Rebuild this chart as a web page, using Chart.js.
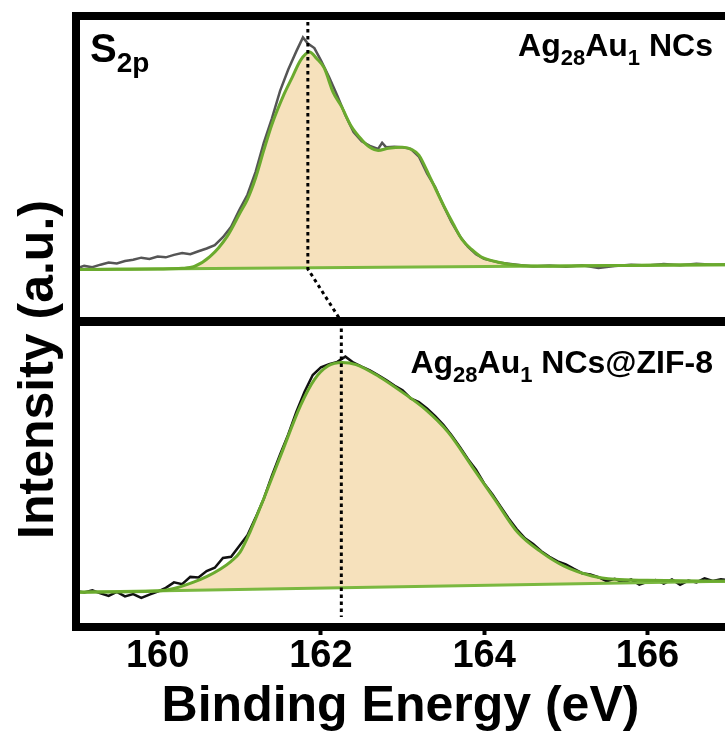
<!DOCTYPE html>
<html><head><meta charset="utf-8">
<script src="https://cdn.jsdelivr.net/npm/chart.js@4/dist/chart.umd.min.js"></script>
<style>html,body{margin:0;padding:0;background:#fff;}canvas{display:block;}</style>
</head><body>
<canvas id="c" width="725" height="740"></canvas>
<script>
// ---- data (binding energy in eV, intensity in arbitrary units per panel 0-100) ----
const xTickValues = [160, 162, 164, 166];

// Top panel: Ag28Au1 NCs
const topRawE = [159.0,159.1,159.2,159.3,159.4,159.5,159.6,159.7,159.8,159.9,160.0,160.1,160.2,160.3,160.4,160.5,160.6,160.7,160.8,160.9,161.0,161.1,161.2,161.3,161.4,161.5,161.6,161.7,161.78,161.84,161.92,162.0,162.1,162.2,162.3,162.4,162.5,162.6,162.7,162.75,162.8,162.9,163.0,163.1,163.2,163.3,163.4,163.5,163.6,163.7,163.8,163.9,164.0,164.2,164.4,164.6,164.8,165.0,165.2,165.4,165.6,165.8,166.0,166.2,166.4,166.6,166.8,167.0];
const topRawI = [17.3,18.2,17.8,18.6,19.3,19.0,19.8,20.2,20.9,20.5,21.3,21.0,21.8,22.4,22.0,23.0,23.9,25.0,27.6,31.0,36.5,41.5,49.0,58.5,66.5,75.5,82.5,88.5,93.0,91.0,89.5,85.5,80.0,74.0,67.5,62.0,59.0,57.5,56.5,58.5,57.0,57.2,57.0,56.5,54.0,48.5,44.0,38.0,32.5,28.0,24.5,22.0,20.5,19.2,18.6,18.0,18.3,17.9,18.4,17.5,18.2,18.6,18.3,18.8,18.4,18.9,18.6,18.8];
const topFitE = [159.0,159.5,160.0,160.3,160.45,160.64,160.85,161.01,161.1,161.2,161.3,161.4,161.55,161.65,161.75,161.86,161.95,162.04,162.15,162.25,162.37,162.5,162.6,162.7,162.83,163.0,163.12,163.2,163.34,163.51,163.62,163.73,163.85,163.96,164.19,164.41,164.8,165.5,166.2,167.0];
const topFitI = [17.0,17.1,17.2,17.4,18.0,21.2,27.8,35.6,40.0,47.0,56.0,64.5,74.5,80.0,85.5,88.2,86.0,83.0,75.0,70.5,64.0,59.5,57.0,56.0,56.7,57.0,56.2,54.5,47.0,37.6,32.0,26.8,23.5,21.2,19.3,18.4,18.1,18.3,18.5,18.6];
const topBgE = [159.0, 167.0];
const topBgI = [17.0, 18.6];

// Bottom panel: Ag28Au1 NCs@ZIF-8
const botRawE = [159.0,159.1,159.2,159.3,159.4,159.5,159.6,159.7,159.8,159.9,160.0,160.1,160.2,160.3,160.4,160.5,160.6,160.7,160.8,160.9,161.0,161.1,161.2,161.3,161.4,161.5,161.6,161.7,161.8,161.9,162.0,162.1,162.2,162.3,162.4,162.5,162.6,162.7,162.8,162.9,163.0,163.1,163.2,163.3,163.4,163.5,163.6,163.7,163.8,163.9,164.0,164.1,164.2,164.3,164.4,164.5,164.6,164.7,164.8,164.9,165.0,165.1,165.2,165.3,165.4,165.5,165.6,165.7,165.8,165.9,166.0,166.1,166.2,166.3,166.4,166.5,166.6,166.7,166.8,166.9,167.0];
const botRawI = [11.8,11.3,12.0,11.0,10.2,11.5,10.0,10.8,9.5,10.6,11.6,12.8,14.6,14.0,16.4,16.2,18.3,19.4,22.6,23.0,26.5,30.0,35.8,42.0,49.5,56.5,63.0,70.5,77.0,82.5,85.0,86.0,86.8,88.5,86.5,85.2,84.0,82.5,80.8,79.0,77.5,74.8,73.6,71.5,69.0,66.2,62.8,59.0,55.0,51.5,47.0,43.5,39.5,35.5,32.0,29.0,27.2,24.8,23.0,21.5,20.5,19.0,17.6,17.2,16.3,15.0,15.8,14.5,15.6,13.9,14.8,15.4,14.2,15.6,13.8,15.2,14.6,15.9,15.1,15.6,15.4];
const botFitE = [159.0,160.0,160.2,160.44,160.6,160.77,160.9,161.01,161.13,161.3,161.52,161.75,161.92,162.09,162.26,162.43,162.71,163.0,163.28,163.56,163.85,164.13,164.41,164.7,164.98,165.32,165.6,166.0,167.0];
const botFitI = [11.4,11.8,12.6,14.7,16.5,19.0,21.5,24.5,31.0,42.0,57.0,72.5,81.0,85.5,86.6,85.9,82.0,76.8,71.2,63.7,52.6,41.8,31.0,24.5,19.9,16.7,15.6,15.3,15.0];
const botBgE = [159.0, 167.0];
const botBgI = [11.4, 15.0];

// peak position guides (eV)
const peakTopE = 161.84;
const peakBotE = 162.25;
const guideTopI = [98, 17.2, 0];
const guideBotI = [100, 3.3];

// texts
const xTitle = 'Binding Energy (eV)';
const yTitle = 'Intensity (a.u.)';
const topLabel = [['Ag',0],['28',1],['Au',0],['1',1],[' NCs',0]];
const botLabel = [['Ag',0],['28',1],['Au',0],['1',1],[' NCs@ZIF-8',0]];
const coreLabel = [['S',0],['2p',1]];

// ---- chart ----
const FONT = '"Liberation Sans", Arial, sans-serif';
const toXY = (xs, ys) => xs.map((x, i) => ({x: x, y: ys[i]}));

const fillColor = 'rgb(246,225,188)';
const fitGreen = '#6aaa2e';
const bgGreen = '#7ab840';

function richText(ctx, parts, x, baseline, big, small, dy, alignRight) {
  let total = 0;
  parts.forEach(p => { ctx.font = 'bold ' + (p[1] ? small : big) + 'px ' + FONT; total += ctx.measureText(p[0]).width; });
  let cx = alignRight ? x - total : x;
  parts.forEach(p => {
    ctx.font = 'bold ' + (p[1] ? small : big) + 'px ' + FONT;
    ctx.fillText(p[0], cx, baseline + (p[1] ? dy : 0));
    cx += ctx.measureText(p[0]).width;
  });
}

const framePlugin = {
  id: 'frame',
  beforeDraw(chart) {
    const ctx = chart.ctx;
    ctx.save(); ctx.fillStyle = '#fff'; ctx.fillRect(0, 0, chart.width, chart.height); ctx.restore();
  },
  afterDraw(chart) {
    const {ctx, chartArea: a, scales} = chart;
    const mid = scales.yTop.bottom;
    ctx.save();
    ctx.strokeStyle = '#000';
    ctx.lineCap = 'butt';
    const ln = (x1, y1, x2, y2, w) => { ctx.lineWidth = w; ctx.beginPath(); ctx.moveTo(x1, y1); ctx.lineTo(x2, y2); ctx.stroke(); };
    ln(a.left - 4, a.top, a.right, a.top, 8);
    ln(a.left, a.top - 4, a.left, a.bottom + 4, 8);
    ln(a.left - 4, a.bottom, a.right, a.bottom, 8);
    ln(a.left, mid, a.right, mid, 9);

    ctx.fillStyle = '#000';
    ctx.textBaseline = 'alphabetic';
    ctx.textAlign = 'left';
    richText(ctx, coreLabel, a.left + 14, a.top + 46, 40, 28, 10, false);
    richText(ctx, topLabel, a.right - 12, a.top + 40, 32, 22, 9, true);
    richText(ctx, botLabel, a.right - 12, mid + 51, 32, 22, 9, true);

    ctx.translate(53, (a.top + a.bottom) / 2 + 48);
    ctx.rotate(-Math.PI / 2);
    ctx.textAlign = 'center';
    ctx.font = 'bold 50px ' + FONT;
    ctx.fillText(yTitle, 0, 0);
    ctx.restore();
  }
};

const guideStyle = {borderColor: '#000', borderWidth: 3, borderDash: [3.5, 3.5], pointRadius: 0, fill: false, order: 0, tension: 0};

new Chart(document.getElementById('c'), {
  type: 'line',
  data: {
    datasets: [
      {label: 'top raw', data: toXY(topRawE, topRawI), yAxisID: 'yTop', borderColor: '#555', borderWidth: 2.5, pointRadius: 0, tension: 0, fill: false, order: 3},
      {label: 'top background', data: toXY(topBgE, topBgI), yAxisID: 'yTop', borderColor: bgGreen, borderWidth: 3, pointRadius: 0, fill: false, order: 2},
      {label: 'top fit', data: toXY(topFitE, topFitI), yAxisID: 'yTop', borderColor: fitGreen, borderWidth: 3, pointRadius: 0, cubicInterpolationMode: 'monotone', fill: 1, backgroundColor: fillColor, order: 1},
      {label: 'bottom raw', data: toXY(botRawE, botRawI), yAxisID: 'yBot', borderColor: '#111', borderWidth: 2.5, pointRadius: 0, tension: 0, fill: false, order: 3},
      {label: 'bottom background', data: toXY(botBgE, botBgI), yAxisID: 'yBot', borderColor: bgGreen, borderWidth: 3, pointRadius: 0, fill: false, order: 2},
      {label: 'bottom fit', data: toXY(botFitE, botFitI), yAxisID: 'yBot', borderColor: fitGreen, borderWidth: 3, pointRadius: 0, cubicInterpolationMode: 'monotone', fill: 4, backgroundColor: fillColor, order: 1},
      Object.assign({label: 'top guide', yAxisID: 'yTop', data: toXY([peakTopE, peakTopE, peakBotE], guideTopI)}, guideStyle),
      Object.assign({label: 'bottom guide', yAxisID: 'yBot', data: toXY([peakBotE, peakBotE], guideBotI)}, guideStyle)
    ]
  },
  options: {
    responsive: false,
    animation: false,
    devicePixelRatio: 1,
    layout: {padding: {left: 76, top: 16, right: 0, bottom: 8}},
    plugins: {legend: {display: false}, tooltip: {enabled: false}, filler: {drawTime: 'beforeDatasetsDraw'}},
    scales: {
      x: {
        type: 'linear', min: 159, max: 166.95,
        afterBuildTicks: s => { s.ticks = xTickValues.map(v => ({value: v})); },
        grid: {display: true, drawOnChartArea: false, drawTicks: true, tickLength: 8, tickWidth: 4, tickColor: '#000'},
        border: {display: true, width: 8, color: '#000'},
        ticks: {font: {family: FONT, size: 38, weight: 'bold', lineHeight: 1}, color: '#000', padding: 3, maxRotation: 0, autoSkip: false},
        title: {display: true, text: xTitle, color: '#000', font: {family: FONT, size: 50, weight: 'bold', lineHeight: 1}, padding: {top: 3, bottom: 0}}
      },
      yBot: {type: 'linear', display: false, min: 0, max: 100, position: 'left', stack: 'panels', stackWeight: 1},
      yTop: {type: 'linear', display: false, min: 0, max: 100, position: 'left', stack: 'panels', stackWeight: 1}
    }
  },
  plugins: [framePlugin]
});
</script>
</body></html>
